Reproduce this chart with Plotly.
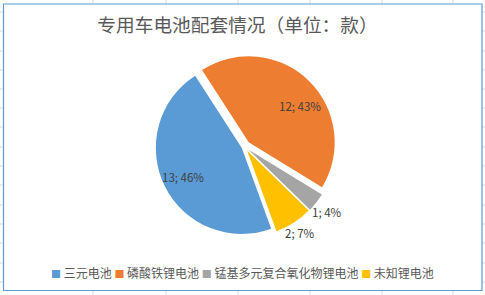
import math
import plotly.graph_objects as go

# ---- data ----
categories = ["三元电池", "磷酸铁锂电池", "锰基多元复合氧化物锂电池", "未知锂电池"]
values = [13, 12, 1, 2]
colors = ["#5B9BD5", "#ED7D31", "#A5A5A5", "#FFC000"]
title_text = "专用车电池配套情况（单位：款）"

# ---- style ----
pulls = [0.035, 0.07, 0.06, 0.055]
label_dist = [0.77, 0.73, 1.16, 1.14]      # label distance (fraction of radius)
label_rot = [0.0, 10.0, 0.5, 0.0]          # small angular nudge of label (deg)
ROTATION = 160

W, H = 485, 295
FONT = "Noto Sans CJK SC"
CX, CY = 244.5, 146.6      # pie centre in px (from top-left)
HALF = 92                  # half of domain size in px

total = sum(values)
labels_text = [f"{v}; {round(v / total * 100)}%" for v in values]

fig = go.Figure()
fig.add_trace(go.Pie(
    labels=categories,
    values=values,
    textinfo="none",
    marker=dict(colors=colors, line=dict(width=0)),
    sort=False,
    direction="clockwise",
    rotation=ROTATION,
    pull=pulls,
    showlegend=False,
    hoverinfo="label+value+percent",
    domain=dict(x=[(CX - HALF) / W, (CX + HALF) / W],
                y=[(H - CY - HALF) / H, (H - CY + HALF) / H]),
))

# data labels positioned from the slice geometry
R = HALF / (1 + max(pulls))
annotations = []
cum = 0
for v, txt, p, d, rot in zip(values, labels_text, pulls, label_dist, label_rot):
    mid = ROTATION + 360 * (cum + v / 2) / total
    cum += v
    a = math.radians(mid)
    sx = CX + p * R * math.sin(a)
    sy = CY - p * R * math.cos(a)
    b = math.radians(mid + rot)
    lx = sx + d * R * math.sin(b)
    ly = sy - d * R * math.cos(b)
    annotations.append(dict(text=txt, x=lx / W, y=1 - ly / H, xref="paper", yref="paper",
                            xanchor="center", yanchor="middle", showarrow=False,
                            font=dict(family=FONT, size=11.5, color="#404040")))

# legend drawn as a single centred line (Excel style)
parts = []
for c, name in zip(colors, categories):
    parts.append(f"<span style='color:{c};font-size:10px'>■</span> {name}")
legend_txt = " ".join(parts)
annotations.append(dict(text=legend_txt, x=242 / W, y=1 - 272 / H, xref="paper", yref="paper",
                        xanchor="center", yanchor="middle", showarrow=False,
                        font=dict(family=FONT, size=12, color="#595959")))

# Excel frame + faint worksheet gridlines outside it
shapes = []
grid_c = "#D9D9D9"
for gx in [93, 166, 238, 310, 382, 453]:
    shapes.append(dict(type="line", xref="paper", yref="paper",
                       x0=gx / W, x1=gx / W, y0=1, y1=1 - 3.5 / H,
                       line=dict(color=grid_c, width=1)))
    shapes.append(dict(type="line", xref="paper", yref="paper",
                       x0=gx / W, x1=gx / W, y0=0, y1=4 / H,
                       line=dict(color=grid_c, width=1)))
for gy in [12, 31, 51, 70, 89, 108, 127, 147, 166, 185, 205, 224, 243, 263, 282]:
    shapes.append(dict(type="line", xref="paper", yref="paper",
                       x0=0, x1=3 / W, y0=1 - gy / H, y1=1 - gy / H,
                       line=dict(color=grid_c, width=1)))
    shapes.append(dict(type="line", xref="paper", yref="paper",
                       x0=1 - 3 / W, x1=1, y0=1 - gy / H, y1=1 - gy / H,
                       line=dict(color=grid_c, width=1)))
shapes.append(dict(type="rect", xref="paper", yref="paper",
                   x0=3.5 / W, x1=482 / W, y0=1 - 4 / H, y1=1 - 290.5 / H,
                   line=dict(color="#5B9BD5", width=1.2), fillcolor="rgba(0,0,0,0)"))

fig.update_layout(
    width=W, height=H, autosize=False,
    margin=dict(l=0, r=0, t=0, b=0),
    paper_bgcolor="white", plot_bgcolor="white",
    title=dict(text=title_text, x=237.5 / W, y=1 - 25 / H,
               xanchor="center", yanchor="middle",
               font=dict(family=FONT, size=18.7, color="#595959")),
    annotations=annotations,
    shapes=shapes,
    showlegend=False,
)

fig.write_html("out.html")
